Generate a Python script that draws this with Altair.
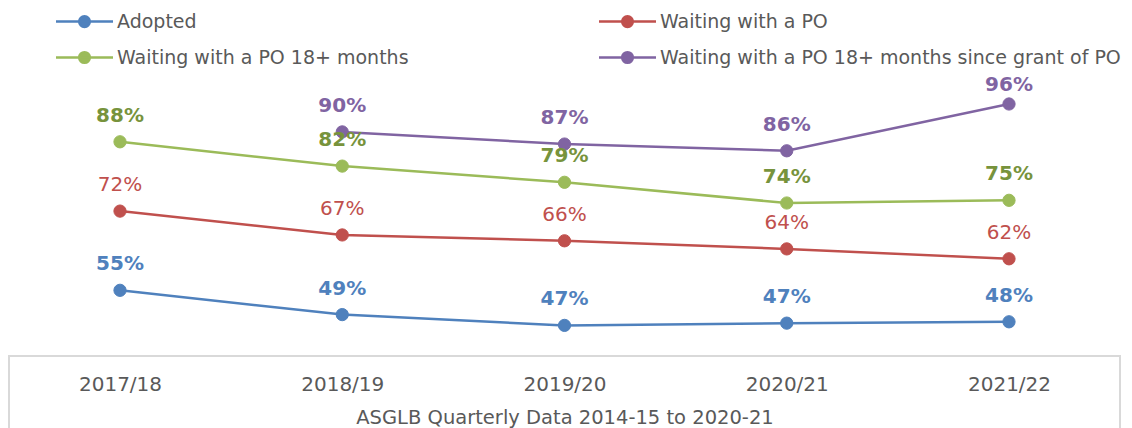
import altair as alt
import pandas as pd

years = ["2017/18", "2018/19", "2019/20", "2020/21", "2021/22"]
series = [
    "Adopted",
    "Waiting with a PO",
    "Waiting with a PO 18+ months",
    "Waiting with a PO 18+ months since grant of PO",
]
adopted = [54.6, 49.2, 46.8, 47.3, 47.6]
waiting_po = [72.2, 66.9, 65.6, 63.8, 61.6]
waiting_18 = [87.6, 82.2, 78.6, 74.0, 74.6]
waiting_18_grant = [None, 89.8, 87.1, 85.6, 96.0]

line_colors = ["#4F81BD", "#C0504D", "#9BBB59", "#8064A2"]
label_colors = ["#4F81BD", "#C0504D", "#77933C", "#8064A2"]
bold_series = ["Adopted", "Waiting with a PO 18+ months",
               "Waiting with a PO 18+ months since grant of PO"]

rows = []
for s, vals in zip(series, [adopted, waiting_po, waiting_18, waiting_18_grant]):
    for yr, v in zip(years, vals):
        if v is None:
            continue
        rows.append({"year": yr, "series": s, "value": v / 100})
df = pd.DataFrame(rows)
df["lcolor"] = df["series"].map(dict(zip(series, label_colors)))
df["bold"] = df["series"].isin(bold_series)

FONT = "DejaVu Sans"
GREY = "#595959"
W, H = 1116, 348

x_enc = alt.X(
    "year:N", sort=years,
    scale=alt.Scale(type="point", range=[112, 1001], padding=0),
    axis=alt.Axis(
        title="ASGLB Quarterly Data 2014-15 to 2020-21",
        labelAngle=0, domain=False, ticks=False, grid=False,
        labelPadding=18, titlePadding=14,
        labelFont=FONT, labelFontSize=20, labelColor=GREY,
        titleFont=FONT, titleFontSize=19.5, titleColor=GREY, titleFontWeight="normal",
    ),
)
y_scale = alt.Scale(domain=[0.40, 1.17333])
y_enc = alt.Y("value:Q", scale=y_scale, axis=None)
# data labels are kept inside the plot area (as the spreadsheet does)
y_lab = alt.Y("ly:Q", scale=y_scale, axis=None)

color_scale = alt.Scale(domain=series, range=line_colors)
legend = alt.Legend(
    title=None, orient="none", legendX=56, legendY=-7, columns=2,
    direction="horizontal",
    columnPadding=185, rowPadding=5, padding=0,
    symbolType="M-1.5,0L1.5,0M-0.28,0A0.28,0.28,0,1,0,0.28,0A0.28,0.28,0,1,0,-0.28,0Z",
    symbolSize=1444, symbolStrokeWidth=2.5, symbolOpacity=1,
    labelFont=FONT, labelFontSize=19, labelColor=GREY, labelLimit=700, labelOffset=12,
)

base = alt.Chart(df)

lines = base.mark_line(strokeWidth=2.5).encode(
    x=x_enc, y=y_enc,
    stroke=alt.Stroke("series:N", scale=color_scale, legend=legend),
    detail="series:N",
)
points = base.mark_point(filled=True, size=150, opacity=1, strokeWidth=1).encode(
    x=x_enc, y=y_enc,
    fill=alt.Fill("series:N", scale=color_scale, legend=legend),
    stroke=alt.Stroke("series:N", scale=color_scale, legend=legend),
)
lab_base = base.transform_calculate(ly="min(datum.value, 0.945)")
labels_bold = lab_base.transform_filter("datum.bold").mark_text(
    font=FONT, fontSize=20, fontWeight="bold", baseline="alphabetic", dy=-20
).encode(
    x=x_enc, y=y_lab,
    text=alt.Text("value:Q", format=".0%"),
    color=alt.Color("lcolor:N", scale=None),
)
labels_norm = lab_base.transform_filter("!datum.bold").mark_text(
    font=FONT, fontSize=20, baseline="alphabetic", dy=-20
).encode(
    x=x_enc, y=y_lab,
    text=alt.Text("value:Q", format=".0%"),
    color=alt.Color("lcolor:N", scale=None),
)
frame = alt.Chart(pd.DataFrame({"k": [0]})).mark_rect(
    fill=None, stroke="#D9D9D9", strokeWidth=2
).encode(
    x=alt.value(1), x2=alt.value(1112), y=alt.value(348), y2=alt.value(470)
)

chart = alt.layer(frame, lines, points, labels_norm, labels_bold).properties(
    width=W, height=H,
    autosize=alt.AutoSizeParams(type="none"),
    padding={"left": 0, "top": 0, "right": 0, "bottom": 72},
).configure_view(stroke=None).configure_scale(pointPadding=0)

chart.save("out.html", embed_options={"renderer": "svg", "actions": False})
